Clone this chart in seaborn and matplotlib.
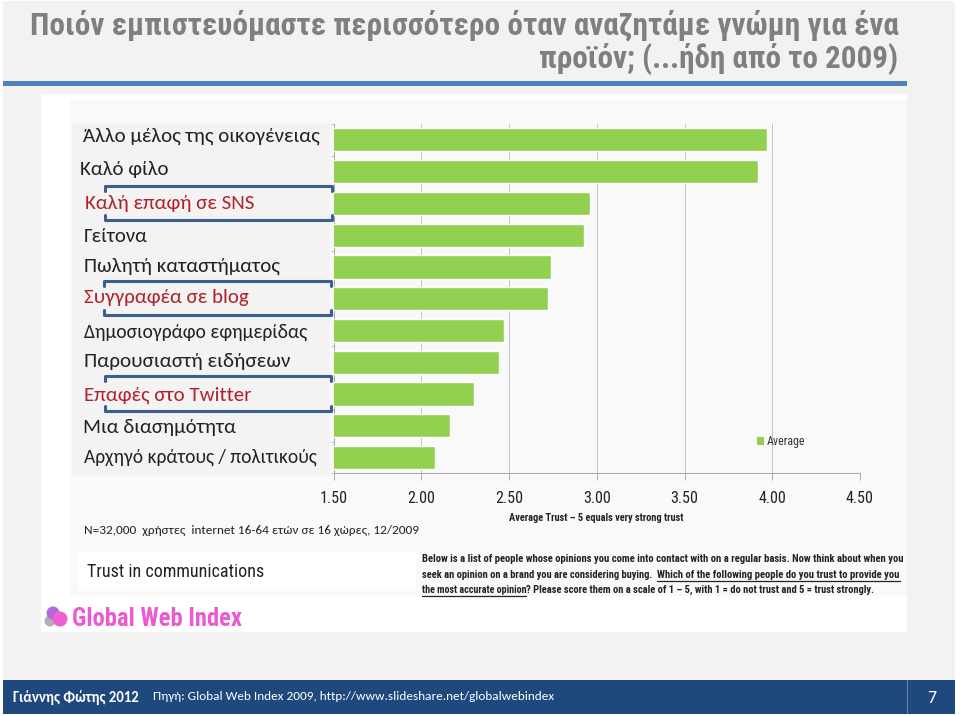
import matplotlib
matplotlib.use("Agg")
import matplotlib.pyplot as plt
from matplotlib.patches import Rectangle, Circle
from matplotlib import font_manager as fm
import seaborn as sns
import pandas as pd

categories = ["Άλλο μέλος της οικογένειας", "Καλό φίλο", "Καλή επαφή σε SNS", "Γείτονα",
              "Πωλητή καταστήματος", "Συγγραφέα σε blog", "Δημοσιογράφο εφημερίδας",
              "Παρουσιαστή ειδήσεων", "Επαφές στο Twitter", "Μια διασημότητα",
              "Αρχηγό κράτους / πολιτικούς"]
averages = [3.97, 3.92, 2.96, 2.93, 2.74, 2.72, 2.47, 2.445, 2.30, 2.165, 2.08]
highlighted = ["Καλή επαφή σε SNS", "Συγγραφέα σε blog", "Επαφές στο Twitter"]
x_ticks = [1.5, 2.0, 2.5, 3.0, 3.5, 4.0, 4.5]

W, H = 960, 716
names = {f.name for f in fm.fontManager.ttflist}
CAL = next((n for n in ("Carlito", "Open Sans", "Roboto") if n in names), "DejaVu Sans")
NAR = next((n for n in ("Roboto Condensed", "Roboto", "Open Sans") if n in names), "DejaVu Sans")
FAM = [CAL, "DejaVu Sans"]
NFAM = [NAR, "DejaVu Sans"]
sns.set_theme(style="white")
plt.rcParams["font.family"] = FAM

fig = plt.figure(figsize=(W / 100, H / 100), dpi=100, facecolor="#ffffff")

bg = fig.add_axes([0, 0, 1, 1], zorder=0)
bg.set_xlim(0, W); bg.set_ylim(H, 0); bg.axis("off")
def rect(a, x0, y0, x1, y1, c, z=1):
    a.add_patch(Rectangle((x0, y0), x1 - x0, y1 - y0, fc=c, ec="none", zorder=z))
rect(bg, 3, 1, 955, 680, "#f2f2f2")
rect(bg, 3, 81, 907, 85.5, "#4f81bd", 2)
rect(bg, 41, 94, 907, 632, "#ffffff", 2)
rect(bg, 70, 100, 907, 596, "#f9f9f9", 3)
rect(bg, 72, 123, 330, 476, "#f3f3f3", 4)
rect(bg, 78, 552, 416, 591, "#ffffff", 4)
rect(bg, 3, 680, 955, 714, "#1f497d", 2)
rect(bg, 907.3, 680, 908.3, 714, "#5f86b3", 3)

# chart
x0, x1, y0, y1 = 333.5, 860, 124, 473.4
ax = fig.add_axes([x0 / W, 1 - y1 / H, (x1 - x0) / W, (y1 - y0) / H], zorder=2)
ax.patch.set_alpha(0)
df = pd.DataFrame({"who": categories, "avg": averages})
sns.barplot(data=df, y="who", x="avg", color="#92d050", saturation=1, width=0.73, ax=ax, zorder=3)
ax.set_xlim(1.5, 4.5)
ax.set_xticks(x_ticks)
ax.set_xticklabels([f"{t:.2f}" for t in x_ticks], fontsize=11.6, color="#222222", family=NFAM)
ax.set_yticks([i - 0.5 for i in range(len(categories) + 1)])
ax.set_yticklabels([])
ax.set_ylim(len(categories) - 0.5, -0.5)
ax.set_xlabel(""); ax.set_ylabel("")
ax.grid(axis="x", color="#c4c4c4", lw=0.7, zorder=0)
ax.set_axisbelow(True)
ax.tick_params(axis="x", length=5, color="#a8a8a8", width=0.7, pad=8, bottom=True)
ax.tick_params(axis="y", length=2, color="#c0c0c0", width=0.7, pad=2, left=True)
for s in ("top", "right"):
    ax.spines[s].set_visible(False)
for s in ("left", "bottom"):
    ax.spines[s].set_color("#a8a8a8"); ax.spines[s].set_linewidth(0.7)

ov = fig.add_axes([0, 0, 1, 1], zorder=5)
ov.set_xlim(0, W); ov.set_ylim(H, 0); ov.axis("off")
rend = fig.canvas.get_renderer()

def fit(xa, xb, y, s, size=12, ha="left", family=FAM, **kw):
    """Real text whose size is tuned so that it spans xa..xb pixels."""
    t = ov.text(xa if ha == "left" else xb, y, s, fontsize=size, va="center", ha=ha, family=family, **kw)
    w = t.get_window_extent(rend).width
    t.set_fontsize(size * (xb - xa) / w)
    return t

# category labels
lab_x = [(83, 321), (80, 169), (85, 255), (84, 148), (84, 280), (84, 249), (84, 308), (84, 290), (84, 251), (83, 236), (84, 317)]
lab_y = [136, 170, 204, 236, 266, 298, 332, 361, 395, 428, 457]
for name, (la, lb), ly in zip(categories, lab_x, lab_y):
    fit(la, lb, ly, name, color="#b2202a" if name in highlighted else "#222222")

# brackets
for bx0, bx1, yt, yb in [(105, 332, 186, 220), (104, 331, 281, 315), (105, 331, 376, 411)]:
    for y, sgn in ((yt, 1), (yb, -1)):
        ov.plot([bx0, bx0, bx1, bx1], [y + sgn * 5, y, y, y + sgn * 5], color="#3b5f8f", lw=2.2,
                solid_joinstyle="round", zorder=6)

# legend
rect(ov, 757, 437, 764, 445, "#92d050", 6)
fit(767, 805, 441, "Average", family=NFAM, color="#333333")

# texts
fit(509, 685, 518, "Average Trust – 5 equals very strong trust", family=NFAM, fontweight="bold", color="#222222")
fit(84, 419, 530, "N=32,000  χρήστες  internet 16-64 ετών σε 16 χώρες, 12/2009", color="#222222")
fit(87, 265, 572, "Trust in communications", family=NFAM, color="#222222")
INK = dict(fontweight="bold", color="#222222", family=NFAM)
fit(422, 903, 559, "Below is a list of people whose opinions you come into contact with on a regular basis. Now think about when you", **INK)
fit(422, 654, 574.5, "seek an opinion on a brand you are considering buying.", **INK)
fit(657, 900, 574.5, "Which of the following people do you trust to provide you", **INK)
ov.plot([657, 900], [580.5, 580.5], color="#222222", lw=0.9)
fit(422, 526, 590, "the most accurate opinion", **INK)
ov.plot([422, 526], [596, 596], color="#222222", lw=0.9)
fit(526, 878, 590, "? Please score them on a scale of 1 – 5, with 1 = do not trust and 5 = trust strongly.", **INK)

# logo
ov.add_patch(Circle((50, 621), 5.5, fc="#b0b0b0", ec="none", zorder=6))
ov.add_patch(Circle((53, 613), 6.5, fc="#b36bdc", ec="none", zorder=6))
ov.add_patch(Circle((60, 619), 7.5, fc="#ee5fd2", ec="none", zorder=7))
fit(72, 242, 619, "Global Web Index", size=20, family=NFAM, color="#ea5ad0", fontweight="bold")

# title
fit(30, 898, 25, "Ποιόν εμπιστευόμαστε περισσότερο όταν αναζητάμε γνώμη για ένα", size=20, family=NFAM, fontweight="bold", color="#7f7f7f")
fit(538, 898, 59, "προϊόν; (...ήδη από το 2009)", size=20, ha="right", family=NFAM, fontweight="bold", color="#7f7f7f")

# footer
fit(13, 138, 698, "Γιάννης Φώτης 2012", fontweight="bold", color="white")
fit(153, 553, 697, "Πηγή: Global Web Index 2009, http://www.slideshare.net/globalwebindex", color="white")
ov.text(932, 698, "7", fontsize=13, family=FAM, va="center", ha="center", color="white")

fig.savefig("out.png", dpi=100, facecolor=fig.get_facecolor())
